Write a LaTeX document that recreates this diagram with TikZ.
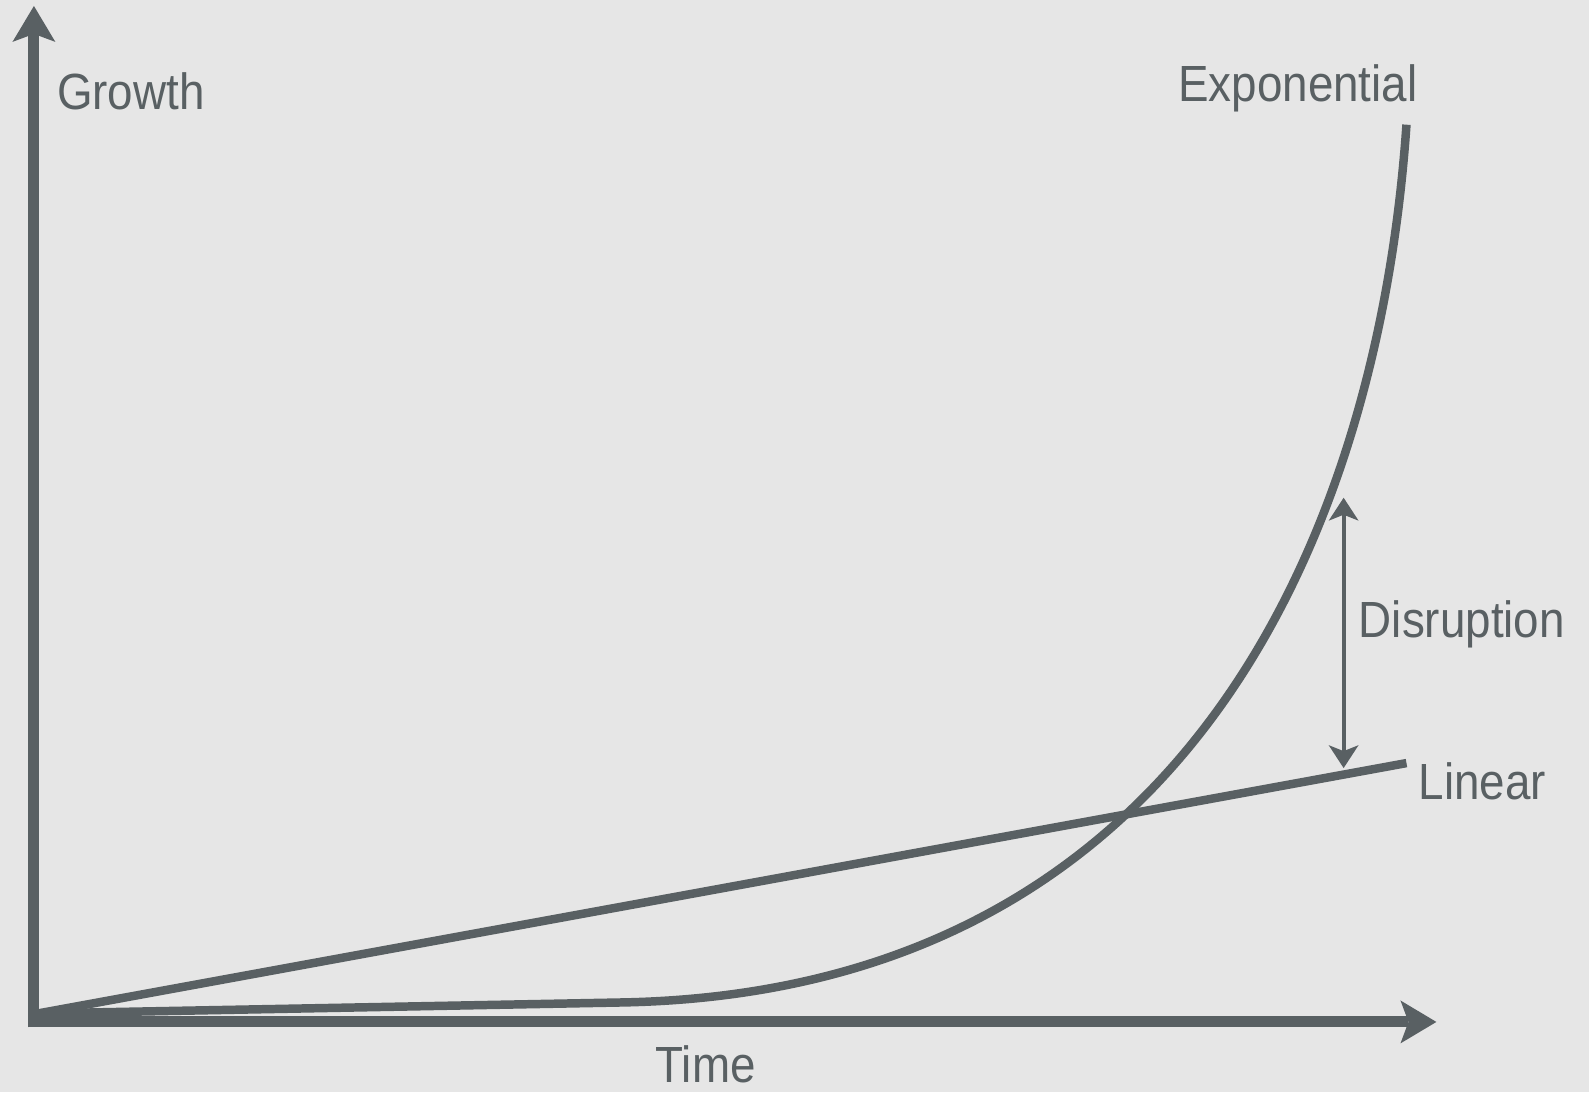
\documentclass[tikz,border=0pt]{standalone}
\usepackage{fontspec}
\setmainfont{Liberation Sans}[FakeStretch=0.9]
\usepackage{tikz}
\usetikzlibrary{arrows.meta}
\definecolor{ink}{RGB}{89,96,99}
\definecolor{paper}{RGB}{230,230,230}

\begin{document}
\begin{tikzpicture}[x=1pt,y=-1pt,
    axis/.style={ink,line width=11pt,-{Stealth[length=36pt,width=43pt,inset=8pt,line width=0pt]}},
    growth/.style={ink,line width=8.5pt},
    gap/.style={ink,line width=4pt,{Stealth[length=23pt,width=30pt,inset=6pt,line width=0pt]}-{Stealth[length=23pt,width=30pt,inset=6pt,line width=0pt]}},
    every node/.style={inner sep=0pt,anchor=base west,text=ink,font=\fontsize{51}{60}\selectfont}]

    \fill[paper] (-2,-2) rectangle (1591,1093);
    \useasboundingbox (0,0) rectangle (1589,1091);

    \coordinate (o)   at (32, 1028);
    \coordinate (ox)  at (27, 1022.5);
    \coordinate (y)   at (32, 4);
    \coordinate (x)   at (1438, 1022.5);
    \coordinate (s)   at (36, 1014);
    \coordinate (k)   at (620, 1003);
    \coordinate (e)   at (1408, 123);
    \coordinate (lin) at (1408, 763);
    \coordinate (top) at (1345, 497);
    \coordinate (bot) at (1345, 768);

    \node (growth) at (55, 108)   {Growth};
    \node (expo)   at (1179, 100) {Exponential};
    \node (disr)   at (1360, 637) {Disruption};
    \node (linear) at (1420, 800) {Linear};
    \node (time)   at (655, 1083) {Time};

    \draw (o) edge[axis] (y);
    \draw (ox) edge[axis] (x);
    \draw (s) edge[growth] (lin);
    \draw[growth] (s) -- (k) .. controls (1190, 993) and (1380, 530) .. (e);
    \draw (top) edge[gap] (bot);
  \end{tikzpicture}
\end{document}
